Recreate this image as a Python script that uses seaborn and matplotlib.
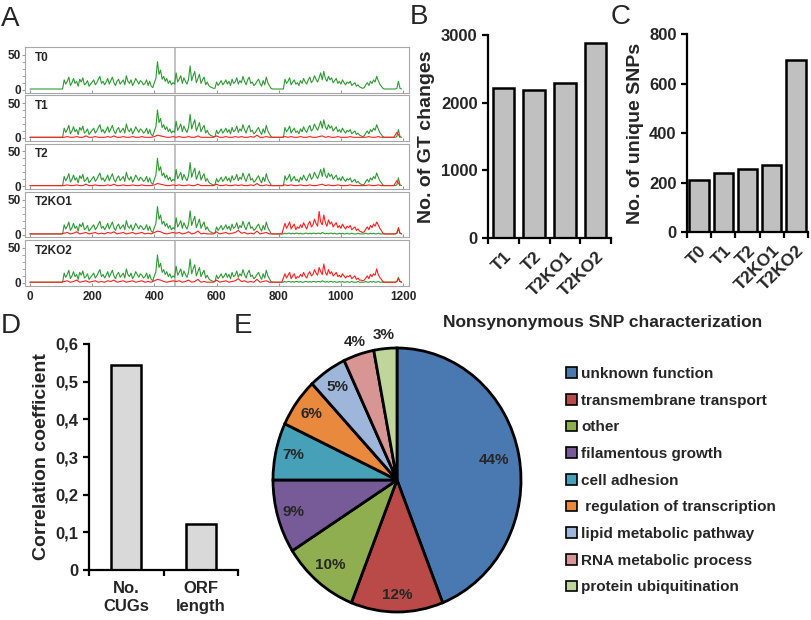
import numpy as np
import seaborn as sns
import matplotlib.pyplot as plt
from matplotlib.patches import Patch

# ---- panel A: SNP density along the genome
# green (shared by all strains) read every 5 units, red background every 10
x_fine = list(range(0, 1200, 5))
x_main_coarse = list(range(0, 820, 10))
x_tail_fine = list(range(820, 1200, 5))
x_tail_coarse = list(range(820, 1200, 10))

green_main = [1, 1, 1, 1, 1, 1, 1, 1, 1, 1, 1, 1, 1, 1, 1, 1, 1, 1, 1, 1, 1, 1,
              14, 8, 12, 18, 6, 10, 16, 9, 12, 5, 15, 11, 17, 7, 9, 13, 5, 8, 11, 14,
              7, 10, 15, 19, 9, 12, 7, 11, 16, 8, 13, 18, 10, 6, 12, 15, 8, 11, 14, 7,
              20, 12, 9, 14, 6, 10, 16, 12, 8, 13, 11, 7, 9, 14, 6, 12, 5, 3,
              10, 16, 40, 22, 28, 15, 19, 12, 16, 9, 13, 7, 10, 8,
              24, 11, 15, 20, 9, 17, 12, 8, 15, 34, 13, 20, 26, 10, 16, 22, 9, 14, 18, 7,
              11, 6, 4, 3, 2, 2,
              11, 6, 9, 13, 7, 10, 14, 8, 12, 6, 15, 9, 11, 17, 8, 13, 10, 19, 12, 7,
              14, 18, 9, 11, 6, 8, 12, 15, 9, 5, 13, 7, 18, 10, 6, 2, 1, 1,
              1, 1, 1, 1, 1, 1]
green_tail_wt = [15, 9, 12, 17, 7, 11, 14, 8, 10, 6, 13, 9, 16, 11, 8, 14, 18, 10, 13, 20,
                 15, 11, 17, 24, 14, 26, 16, 12, 19, 14, 17, 10, 13, 16, 9, 12, 8, 14, 10, 7,
                 11, 9, 12, 6, 8, 10, 5, 7, 4, 3, 2, 3, 7, 10, 6, 12, 9, 14, 11, 19,
                 13, 8, 5, 2,
                 1, 1, 1, 1, 1, 1, 1, 1, 2, 12, 2, 1]
green_tail_ko = [2, 1, 2, 2, 1, 2, 1, 2, 2, 1, 2, 1, 1, 2, 2, 1, 2, 1, 2, 2,
                 1, 2, 2, 1, 3, 2, 1, 2, 1, 2, 2, 1, 2, 1, 1, 2, 1, 2, 1, 1,
                 2, 1, 1, 2, 1, 1, 1, 2, 1, 1, 1, 1, 2, 1, 1, 2, 1, 2, 1, 1,
                 2, 1, 1, 1,
                 1, 1, 1, 1, 1, 1, 1, 1, 2, 8, 2, 1]
red_main_wt = [1, 1, 1, 1, 1, 1, 1, 1, 1, 1, 1,
               1, 2, 1, 1, 2, 1, 1, 3, 1, 1, 2, 1, 1, 1, 2, 1, 3, 1, 1,
               2, 1, 1, 2, 1, 1, 2, 1, 1, 1,
               2, 4, 3, 2, 1, 1, 2,
               1, 2, 1, 1, 2, 1, 1, 3, 1, 1, 1, 1, 1,
               3, 1, 1, 2, 1, 1, 2, 1, 2, 1, 1, 2, 1, 4, 1, 1, 2, 1, 1,
               1, 1, 1]
red_tail_wt = [2, 1, 2, 1, 1, 2, 1, 1, 2, 1, 1, 2, 3, 1, 2, 1,
               1, 2, 1, 1, 1, 2, 1, 1, 1, 1, 1, 2, 1, 1, 2, 1,
               1, 1, 1, 1, 8, 1]
red_main_ko = [1, 1, 1, 1, 1, 1, 1, 1, 1, 1, 1,
               2, 3, 1, 2, 4, 1, 2, 3, 1, 2, 3, 1, 2, 1, 3, 2, 4, 1, 2,
               3, 1, 2, 3, 1, 2, 3, 1, 2, 1,
               3, 5, 4, 2, 1, 2, 3,
               2, 3, 1, 2, 4, 1, 2, 5, 1, 2, 1, 1, 1,
               4, 1, 2, 3, 1, 2, 3, 6, 2, 3, 1, 2, 1, 5, 1, 2, 3, 1, 1,
               1, 1, 1]
red_tail_ko1 = [16, 9, 13, 18, 8, 12, 15, 7, 11, 9, 14, 10, 17, 12, 8, 15, 19, 11, 14, 22,
                16, 12, 33, 18, 14, 28, 17, 12, 21, 15, 18, 11, 14, 17, 10, 13, 9, 15, 11, 8,
                12, 10, 13, 7, 9, 11, 6, 8, 5, 4, 3, 4, 8, 11, 7, 13, 10, 15, 12, 18,
                14, 9, 6, 2,
                1, 1, 1, 1, 1, 1, 1, 1, 2, 10, 2, 1]
red_tail_ko2 = [13, 7, 11, 15, 6, 10, 13, 6, 9, 8, 12, 9, 15, 10, 7, 13, 16, 10, 12, 19,
                14, 11, 22, 16, 12, 27, 15, 11, 19, 13, 16, 10, 12, 15, 9, 11, 8, 13, 10, 7,
                10, 9, 11, 6, 8, 10, 5, 7, 4, 4, 3, 4, 7, 10, 6, 12, 9, 13, 11, 20,
                12, 8, 5, 2,
                1, 1, 1, 1, 1, 1, 1, 1, 2, 6, 2, 1]
marker_pos = 465

red_x_wt = x_main_coarse + x_tail_coarse
red_x_ko = x_main_coarse + x_tail_fine
tracks = [
    ("T0", green_main + green_tail_wt, None, None),
    ("T1", green_main + green_tail_wt, red_x_wt, red_main_wt + red_tail_wt),
    ("T2", green_main + green_tail_wt, red_x_wt, red_main_wt + red_tail_wt),
    ("T2KO1", green_main + green_tail_ko, red_x_ko, red_main_ko + red_tail_ko1),
    ("T2KO2", green_main + green_tail_ko, red_x_ko, red_main_ko + red_tail_ko2),
]

# ---- panel B
gt_samples = ["T1", "T2", "T2KO1", "T2KO2"]
gt_changes = [2210, 2180, 2290, 2880]

# ---- panel C
snp_samples = ["T0", "T1", "T2", "T2KO1", "T2KO2"]
unique_snps = [210, 240, 255, 270, 693]

# ---- panel D
corr_labels = ["No.\nCUGs", "ORF\nlength"]
corr_values = [0.545, 0.122]
corr_ticks = [0, 0.1, 0.2, 0.3, 0.4, 0.5, 0.6]
corr_tick_labels = ["0", "0,1", "0,2", "0,3", "0,4", "0,5", "0,6"]

# ---- panel E
categories = ["unknown function", "transmembrane transport", "other",
              "filamentous growth", "cell adhesion",
              " regulation of transcription", "lipid metabolic pathway",
              "RNA metabolic process", "protein ubiquitination"]
shares = [44, 12, 10, 9, 7, 6, 5, 4, 3]
pie_colors = ["#4a78b0", "#b94a48", "#8fae4f", "#775b99", "#45a0b8",
              "#e8893e", "#9db6d9", "#d79593", "#bfd59a"]
label_dist = [0.8, 0.87, 0.84, 0.87, 0.86, 0.85, 0.85, 1.1, 1.1]

sns.set_style("white")
plt.rcParams["font.family"] = ["Liberation Sans", "DejaVu Sans"]
plt.rcParams["font.weight"] = "bold"

W, H = 812, 620
fig = plt.figure(figsize=(W / 100, H / 100), dpi=100)


def px_axes(left, top, right, bottom):
    return fig.add_axes([left / W, 1 - bottom / H, (right - left) / W,
                         (bottom - top) / H])


def style_bar_axes(ax, n):
    sns.despine(ax=ax)
    for side in ["left", "bottom"]:
        ax.spines[side].set_linewidth(1.6)
        ax.spines[side].set_color("black")
    ax.set_xlim(-0.5, n - 0.5)
    ax.set_xticks(np.arange(-0.5, n, 1))
    ax.set_xticklabels([])
    ax.tick_params(axis="both", which="major", direction="out", length=4,
                   width=1.6, color="black", left=True, bottom=True)
    ax.set_xlabel("")


# ---- A
for i, (name, green, red_x, red) in enumerate(tracks):
    top = 47 + i * 48.3
    ax = px_axes(25, top, 409, top + 45.5)
    sns.lineplot(x=x_fine, y=green, ax=ax, color="#2f9a35", linewidth=0.8)
    if red is not None:
        sns.lineplot(x=red_x, y=red, ax=ax, color="#ff2020", linewidth=0.8)
    ax.axvline(marker_pos, color="#b8b8b8", linewidth=1.2, zorder=0)
    ax.set_xlim(-16, 1219)
    ax.set_ylim(-4, 61)
    ax.set_yticks([0, 50])
    ax.set_yticks([10, 20, 30, 40], minor=True)
    ax.set_xticks(range(0, 1201, 200))
    for sp in ax.spines.values():
        sp.set_color("#a8a8a8")
    ax.tick_params(axis="y", which="both", direction="out", left=True,
                   length=2, color="#999999", labelsize=8.5, pad=1)
    ax.tick_params(axis="x", direction="in", bottom=True, length=2,
                   color="#999999", labelsize=8.5)
    ax.text(0.025, 0.9, name, transform=ax.transAxes, ha="left", va="top",
            fontsize=8.5, fontweight="bold")
    if i < len(tracks) - 1:
        ax.tick_params(labelbottom=False)

# ---- B
ax = px_axes(488, 35, 611, 238)
sns.barplot(x=gt_samples, y=gt_changes, ax=ax, color="#c0c0c0",
            edgecolor="black", linewidth=1.8, width=0.7, saturation=1)
style_bar_axes(ax, len(gt_samples))
ax.set_ylim(0, 3000)
ax.set_yticks([0, 1000, 2000, 3000])
ax.set_xticks(range(len(gt_samples)), minor=True)
ax.set_xticklabels(gt_samples, minor=True, rotation=45, ha="right",
                   rotation_mode="anchor", fontsize=12.5)
ax.tick_params(axis="x", which="minor", length=0, pad=8)
ax.tick_params(axis="y", labelsize=12)
ax.set_ylabel("No. of GT changes", fontsize=14, fontweight="bold")

# ---- C
ax = px_axes(687, 34, 808, 232)
sns.barplot(x=snp_samples, y=unique_snps, ax=ax, color="#c0c0c0",
            edgecolor="black", linewidth=1.8, width=0.8, saturation=1)
style_bar_axes(ax, len(snp_samples))
ax.set_ylim(0, 800)
ax.set_yticks([0, 200, 400, 600, 800])
ax.set_xticks(range(len(snp_samples)), minor=True)
ax.set_xticklabels(snp_samples, minor=True, rotation=45, ha="right",
                   rotation_mode="anchor", fontsize=12.5)
ax.tick_params(axis="x", which="minor", length=0, pad=8)
ax.tick_params(axis="y", labelsize=12)
ax.set_ylabel("No. of unique SNPs", fontsize=14, fontweight="bold")

# ---- D
ax = px_axes(89, 344, 238, 570)
sns.barplot(x=corr_labels, y=corr_values, ax=ax, color="#d9d9d9",
            edgecolor="black", linewidth=1.8, width=0.4, saturation=1)
style_bar_axes(ax, len(corr_labels))
ax.set_ylim(0, 0.6)
ax.set_yticks(corr_ticks)
ax.set_yticklabels(corr_tick_labels)
ax.set_xticks(range(len(corr_labels)), minor=True)
ax.set_xticklabels(corr_labels, minor=True, fontsize=12)
ax.tick_params(axis="x", which="minor", length=0, pad=8)
ax.tick_params(axis="y", labelsize=12)
ax.set_ylabel("Correlation coefficient", fontsize=14, fontweight="bold")

# ---- E
ax = px_axes(273, 348, 521, 612)
wedges, _ = ax.pie(shares, colors=pie_colors, startangle=90,
                   counterclock=False,
                   wedgeprops=dict(edgecolor="black", linewidth=2))
ax.set_aspect("auto")
ax.set_xlim(-1, 1)
ax.set_ylim(-1, 1)
for w, d, s in zip(wedges, label_dist, shares):
    ang = np.deg2rad((w.theta1 + w.theta2) / 2)
    ax.text(d * np.cos(ang), d * np.sin(ang), f"{s}%", ha="center",
            va="center", fontsize=11, fontweight="bold")
handles = [Patch(facecolor=c, edgecolor="black", linewidth=1.2)
           for c in pie_colors]
ax.legend(handles, categories, loc="upper left",
          bbox_to_anchor=(566 / W, 1 - 367 / H),
          bbox_transform=fig.transFigure, frameon=False,
          handlelength=0.7, handleheight=0.7, handletextpad=0.3,
          labelspacing=0.83, borderpad=0, borderaxespad=0,
          prop=dict(weight="bold", size=11))
fig.text(603 / W, 1 - 322 / H, "Nonsynonymous SNP characterization",
         ha="center", va="center", fontsize=12.5, fontweight="bold")

# ---- panel letters
for letter, x, y in [("A", 1, 6), ("B", 410, 4), ("C", 611, 4),
                     ("D", 1, 313), ("E", 234, 313)]:
    fig.text(x / W, 1 - y / H, letter, ha="left", va="top", fontsize=20,
             fontweight="normal")

fig.savefig("out.png", dpi=100)
